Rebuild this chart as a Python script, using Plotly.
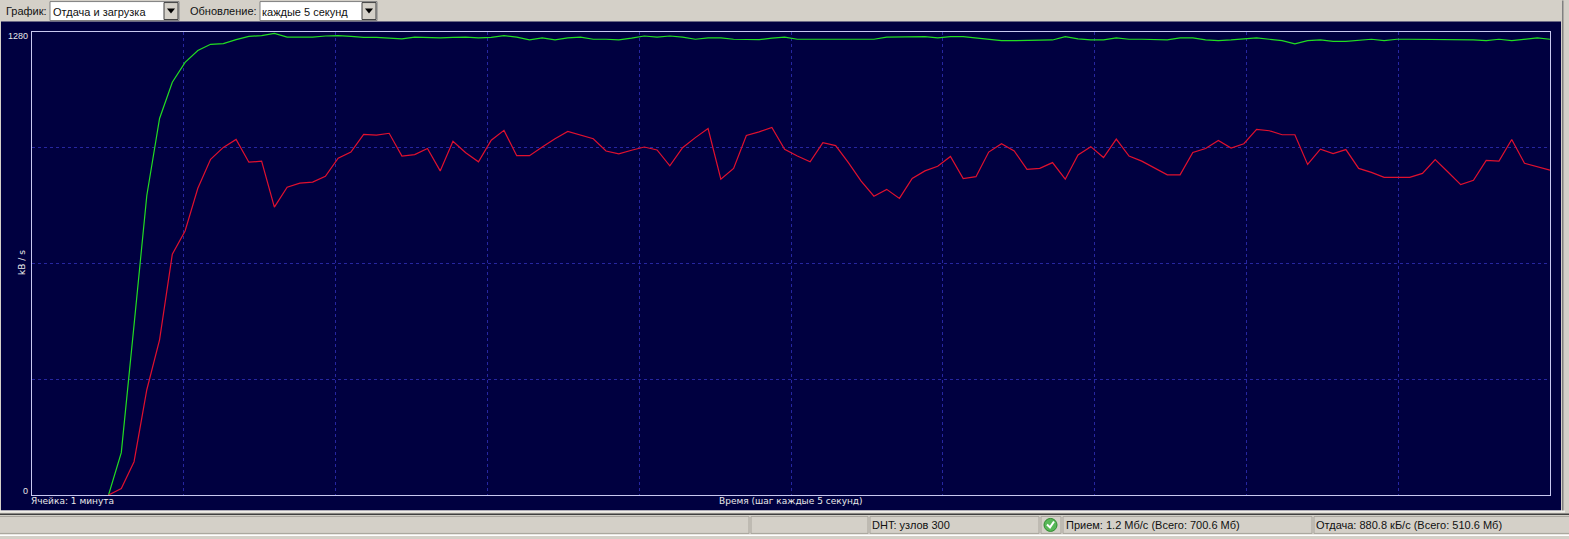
import plotly.graph_objects as go

# kB/s, one sample every 5 seconds; nothing recorded for the first six samples
upload = [None, None, None, None, None, None,
          0, 117, 470, 828, 1041, 1141, 1196, 1229, 1246, 1248, 1259, 1268, 1270, 1276,
          1266, 1265, 1266, 1269, 1270, 1268, 1265, 1265, 1263, 1261, 1266, 1264, 1264, 1265, 1266,
          1264, 1265, 1270, 1266, 1258, 1264, 1258, 1264, 1266, 1260, 1260, 1258, 1263, 1269, 1266,
          1269, 1266, 1260, 1264, 1264, 1260, 1259, 1259, 1263, 1266, 1260,
          1260, 1260, 1258, 1258, 1260, 1260, 1266, 1267, 1267, 1267, 1264, 1267, 1267, 1264,
          1261, 1256, 1256, 1256, 1258, 1258, 1267, 1261, 1258, 1258, 1264, 1260, 1260, 1258, 1258,
          1264, 1264, 1258, 1256, 1258, 1260, 1264, 1260, 1256, 1247, 1256, 1258, 1254, 1254, 1256,
          1260, 1256, 1260, 1260, 1260, 1259, 1258, 1258, 1258, 1256, 1260, 1256, 1260, 1264, 1260]
download = [None, None, None, None, None, None,
            0, 18, 92, 291, 429, 666, 730, 848, 928, 961, 983, 920, 923, 796,
            851, 862, 865, 881, 931, 948, 997, 995, 1000, 937, 941, 958, 896, 978, 946,
            921, 981, 1008, 938, 938, 962, 985, 1005, 996, 985, 951, 943, 953, 962, 954,
            910, 960, 988, 1013, 873, 903, 994, 1004, 1016, 956, 937,
            921, 974, 966, 919, 868, 826, 845, 820, 875, 896, 909, 936, 875, 880,
            948, 971, 951, 900, 903, 919, 873, 940, 963, 933, 984, 937, 923, 904, 885,
            885, 947, 958, 980, 959, 971, 1011, 1007, 996, 996, 914, 956, 944, 955, 903,
            892, 878, 878, 878, 889, 927, 893, 858, 870, 925, 923, 983, 917, 907, 898]
samples = list(range(len(upload)))

y_ticks = [0, 320, 640, 960, 1280]
cell_samples = 11.9  # vertical grid step
title_cell = "Ячейка: 1 минута"
title_time = "Время (шаг каждые 5 секунд)"
title_unit = "kB / s"
combo_graph = "Отдача и загрузка"
combo_update = "каждые 5 секунд"
status_dht = "DHT: узлов 300"
status_in = "Прием: 1.2 Мб/с (Всего: 700.6 Мб)"
status_out = "Отдача: 880.8 кБ/с (Всего: 510.6 Мб)"

W, H = 1569, 539
L, R, T, B = 32, 1550, 31.5, 495.5
GRAY = "#D4D0C8"
NAVY = "#000040"
GRID = "#2626A0"
FONT = "Liberation Sans"
CHART_FONT = "DejaVu Sans"


def px(x):
    return (x - L) / (R - L)


def py(y):
    return (B - y) / (B - T)


def rect(x0, y0, x1, y1, fill=None, line=None, width=1):
    return dict(type="rect", xref="paper", yref="paper", layer="below",
                x0=px(x0), y0=py(y0), x1=px(x1), y1=py(y1),
                fillcolor=fill or "rgba(0,0,0,0)",
                line=dict(color=line or "rgba(0,0,0,0)", width=width if line else 0))


def label(x, y, text, size=11, color="#111111", anchor="left", angle=0, family=FONT):
    return dict(xref="paper", yref="paper", x=px(x), y=py(y), text=text, showarrow=False,
                xanchor=anchor, yanchor="middle", textangle=angle, borderpad=0, borderwidth=0,
                font=dict(family=family, size=size, color=color))


fig = go.Figure()
fig.add_trace(go.Scatter(x=samples, y=upload, mode="lines", line=dict(color="#22DD22", width=1.2), name="Отдача"))
fig.add_trace(go.Scatter(x=samples, y=download, mode="lines", line=dict(color="#E0102E", width=1.2), name="Загрузка"))

shapes = [
    rect(1, 21, 1561, 511, fill=NAVY),
    # scrollbar strip and the lines under the panel
    rect(1562, 0, 1563.5, 512, fill="#808080"),
    rect(0, 511, 1565, 513, fill="#F0EEE8"),
    rect(0, 514, 1569, 515.5, fill="#404040"),
    rect(0, 535, 1569, 536.5, fill="#FFFFFF"),
    # combo boxes
    rect(50, 1, 179, 20, fill="#FFFFFF", line="#808080"),
    rect(164, 2, 178, 19, fill=GRAY, line="#404040"),
    rect(260, 1, 377, 20, fill="#FFFFFF", line="#808080"),
    rect(362, 2, 376, 19, fill=GRAY, line="#404040"),
    dict(type="path", xref="paper", yref="paper", layer="below", fillcolor="#000000", line=dict(width=0),
         path=f"M {px(167)} {py(8)} L {px(175)} {py(8)} L {px(171)} {py(13)} Z"),
    dict(type="path", xref="paper", yref="paper", layer="below", fillcolor="#000000", line=dict(width=0),
         path=f"M {px(365)} {py(8)} L {px(373)} {py(8)} L {px(369)} {py(13)} Z"),
    # status bar cells
    rect(-1, 517, 749, 534, line="#A8A49C"),
    rect(751, 517, 868, 534, line="#A8A49C"),
    rect(870, 517, 1039, 534, line="#A8A49C"),
    rect(1041, 517, 1061, 534, line="#A8A49C"),
    rect(1063, 517, 1312, 534, line="#A8A49C"),
    rect(1314, 517, 1570, 534, line="#A8A49C"),
    # connection icon
    dict(type="circle", xref="paper", yref="paper", layer="below",
         x0=px(1044), x1=px(1057), y0=py(532), y1=py(519),
         fillcolor="#58B858", line=dict(color="#2E8B2E", width=1)),
    dict(type="path", xref="paper", yref="paper", layer="below", line=dict(color="#FFFFFF", width=2),
         path=f"M {px(1047)} {py(525)} L {px(1050)} {py(528)} L {px(1054)} {py(522)}"),
]

annotations = [
    label(6, 10, "График:"),
    label(53, 11, combo_graph),
    label(190, 10, "Обновление:"),
    label(262, 11, combo_update),
    label(28, 36, "1280", size=9, color="#E8E8E8", anchor="right"),
    label(28, 491, "0", size=9, color="#E8E8E8", anchor="right"),
    label(22, 263, title_unit, size=9, color="#E8E8E8", anchor="center", angle=-90, family=CHART_FONT),
    label(31, 501.5, title_cell, size=9, color="#E8E8E8", family=CHART_FONT),
    label(719, 501.5, title_time, size=9, color="#E8E8E8", family=CHART_FONT),
    label(872, 526, status_dht),
    label(1066, 526, status_in),
    label(1316, 526, status_out),
]

fig.update_layout(
    width=W,
    height=H,
    autosize=False,
    margin=dict(l=L, r=W - R, t=T, b=H - B, pad=0),
    paper_bgcolor=GRAY,
    plot_bgcolor=NAVY,
    showlegend=False,
    shapes=shapes,
    annotations=annotations,
    xaxis=dict(range=[0, 119], tick0=0, dtick=cell_samples, showticklabels=False, ticks="",
               showgrid=True, gridcolor=GRID, griddash="3px,3px", gridwidth=1, zeroline=False,
               showline=True, mirror=True, linecolor="#C8C8F0", linewidth=1),
    yaxis=dict(range=[0, 1280], tickvals=y_ticks, showticklabels=False, ticks="",
               showgrid=True, gridcolor=GRID, griddash="3px,3px", gridwidth=1, zeroline=False,
               showline=True, mirror=True, linecolor="#C8C8F0", linewidth=1),
)

fig.write_html("out.html", config=dict(displayModeBar=False),
               post_script="document.body.style.margin='0';document.body.style.overflow='hidden';")
